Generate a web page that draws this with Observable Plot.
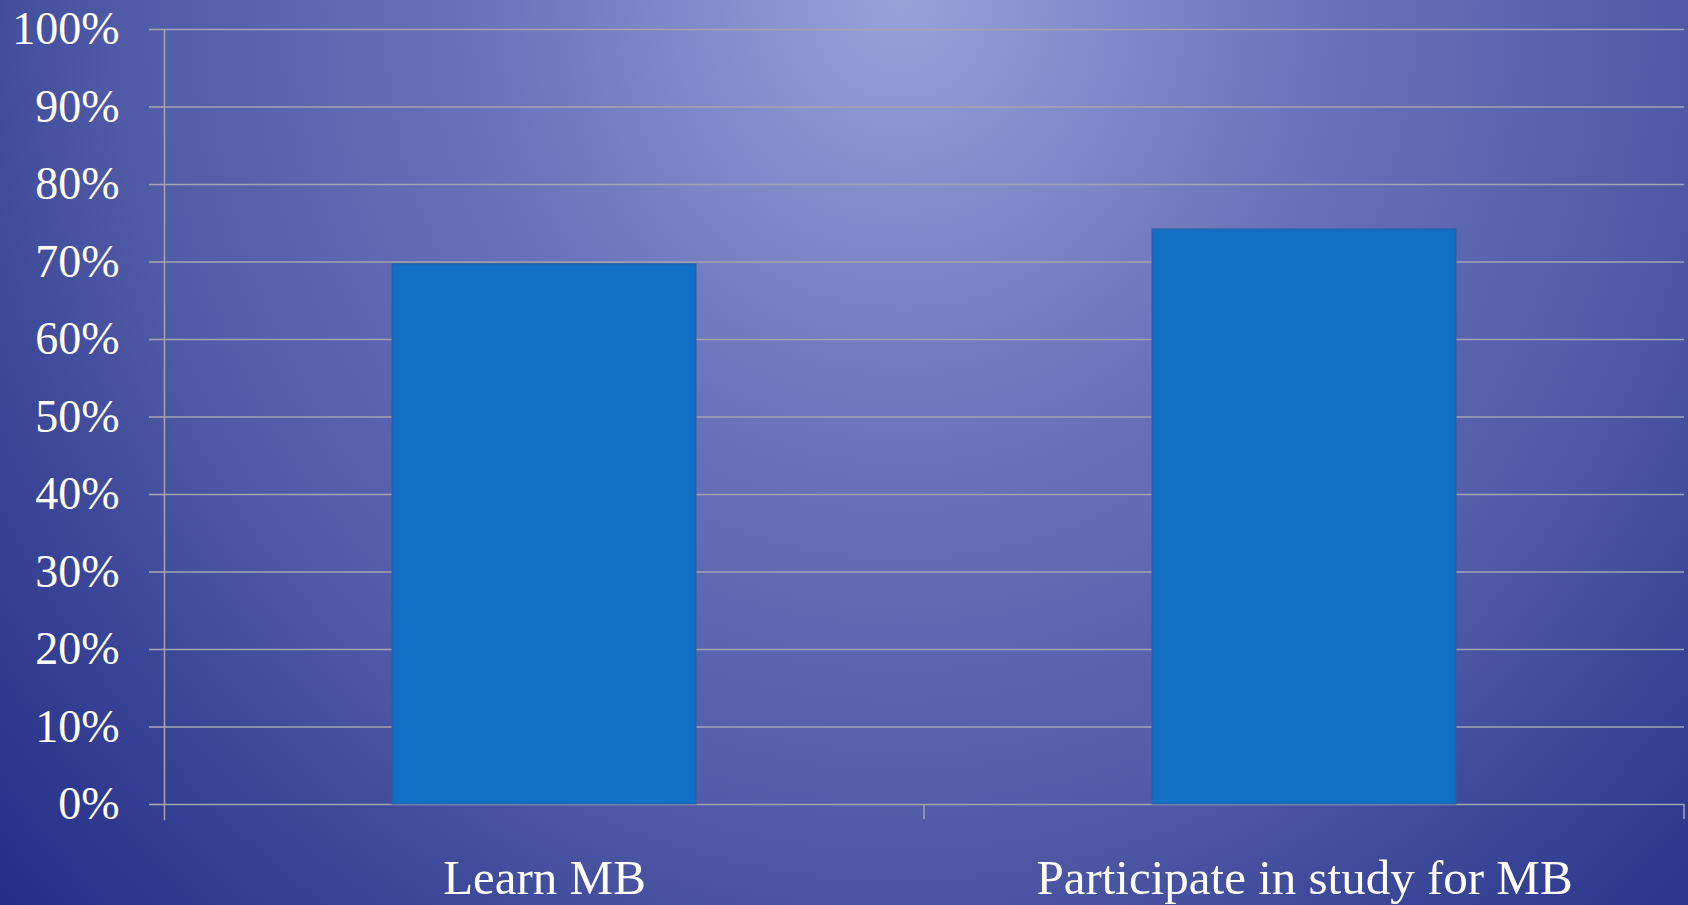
<!DOCTYPE html>
<html>
<head>
<meta charset="utf-8">
<script src="https://cdn.jsdelivr.net/npm/d3@7"></script>
<script src="https://cdn.jsdelivr.net/npm/@observablehq/plot@0.6"></script>
<style>
  html, body { margin: 0; padding: 0; }
  body {
    width: 1688px; height: 905px; overflow: hidden;
    background: #202a85;
  }
  #chart svg text { font-variant-numeric: oldstyle-nums; }
</style>
</head>
<body>
<div id="chart"></div>
<script>
// Share of respondents for each answer
const categories = ["Learn MB", "Participate in study for MB"];
const shares = [0.697, 0.742];
const yTicks = [0, 0.1, 0.2, 0.3, 0.4, 0.5, 0.6, 0.7, 0.8, 0.9, 1.0];

const data = categories.map((label, i) => ({label, share: shares[i]}));

const gridColor = "#a4a4ae";
const bgGradient =
  "radial-gradient(ellipse 1200px 1300px at 900px 0px, #98a2d9 0%, #6a72ba 35%, #4f59a5 66%, #3f4a9a 77%, #202a85 105%)";

const chart = Plot.plot({
  width: 1688,
  height: 905,
  marginTop: 29,
  marginBottom: 101,
  marginLeft: 164,
  marginRight: 4,
  style: {
    background: bgGradient,
    color: "white",
    fontFamily: "'Liberation Serif', 'DejaVu Serif', serif",
    overflow: "visible"
  },
  x: {
    domain: categories,
    paddingInner: 0.6,
    paddingOuter: 0.3,
    label: null,
    tickSize: 0,
    tickPadding: 55
  },
  y: {
    domain: [0, 1],
    ticks: yTicks,
    tickFormat: d3.format(".0%"),
    label: null,
    tickSize: 15,
    tickPadding: 30
  },
  marks: [
    // horizontal gridlines (the 0% line doubles as the category axis)
    Plot.ruleY(yTicks, {stroke: gridColor, strokeWidth: 1.6}),
    // vertical value axis, running a little below the baseline
    Plot.frame({anchor: "left", stroke: gridColor, strokeWidth: 1.5, insetBottom: -15}),
    Plot.barY(data, {x: "label", y: "share", fill: "#116fc6", stroke: "#2e5d9f", strokeWidth: 1}),
    Plot.axisY({
      ticks: yTicks,
      tickFormat: d3.format(".0%"),
      tickSize: 15,
      tickPadding: 30,
      stroke: gridColor,
      strokeWidth: 1.6,
      fontSize: 46,
      fill: "white",
      label: null
    }),
    Plot.axisX({
      tickSize: 0,
      tickPadding: 55,
      fontSize: 49,
      fill: "white",
      label: null
    })
  ]
});

document.getElementById("chart").append(chart);

// Category dividers: short ticks below the baseline at each band boundary
const xs = chart.scale("x");
const ys = chart.scale("y");
const gap = xs.step * 0.6 / 2;
const y0 = ys.apply(0);
const bounds = categories.map(c => xs.apply(c) + xs.bandwidth + gap);
d3.select(chart)
  .append("g")
  .attr("stroke", gridColor)
  .attr("stroke-width", 1.5)
  .selectAll("line")
  .data(bounds)
  .join("line")
  .attr("x1", d => d).attr("x2", d => d)
  .attr("y1", y0).attr("y2", y0 + 15);
</script>
</body>
</html>
